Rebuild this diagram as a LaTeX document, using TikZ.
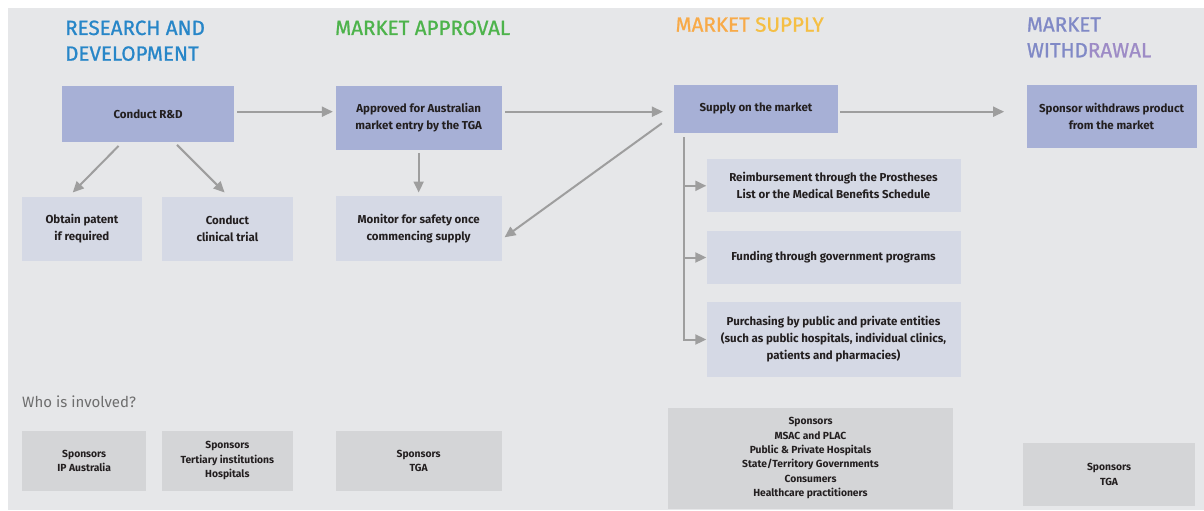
\documentclass[tikz,border=0pt]{standalone}
\usepackage{fontspec}
\setmainfont{Fira Sans}
\newfontfamily\headfont[FakeBold=0.9]{Fira Sans}
\usetikzlibrary{arrows.meta}

\definecolor{panel}{HTML}{E6E7E9}
\definecolor{darkbox}{HTML}{A7B0D6}
\definecolor{lightbox}{HTML}{D5D9E5}
\definecolor{graybox}{HTML}{D4D5D7}
\definecolor{ink}{HTML}{231F20}
\definecolor{arrowgray}{HTML}{9E9E9E}
\definecolor{rdblue}{HTML}{2786C8}
\definecolor{apgreen}{HTML}{4DB34B}
\definecolor{suporange}{HTML}{F8AA48}
\definecolor{supyellow}{HTML}{F5BF44}
\definecolor{wdblue}{HTML}{8089C6}
\definecolor{wdpurple}{HTML}{9D8BC6}
\definecolor{whogray}{HTML}{6E6E6E}

\tikzset{
  box/.style={inner sep=0pt, align=center, text=ink,
    font=\bfseries\fontsize{11.5}{17}\selectfont},
  darkbox/.style={box, fill=darkbox},
  lightbox/.style={box, fill=lightbox},
  whobox/.style={inner sep=0pt, align=center, text=ink, fill=graybox,
    font=\bfseries\fontsize{10.3}{14.3}\selectfont},
  heading/.style={inner sep=0pt, align=left,
    font=\headfont\fontsize{20.6}{25.7}\selectfont},
  arr/.style={draw=arrowgray, line width=2pt,
    -{Triangle[length=11pt,width=10pt]}}
}

\begin{document}
\begin{tikzpicture}[x=1pt,y=-1pt]
  \useasboundingbox (0,0) rectangle (1204,511);
  \fill[white] (0,0) rectangle (1204,511);
  \fill[panel] (7.5,7.7) rectangle (1204,510);

  % stage headings (base anchor of a two-line node sits on its last line)
  \node[heading, anchor=base west, text=rdblue] (hrd) at (65,60.7)
    {RESEARCH AND\\DEVELOPMENT};
  \node[heading, anchor=base west, text=apgreen] (hap) at (335,35)
    {MARKET APPROVAL};
  \node[heading, anchor=base west] (hsm) at (675.4,31.7)
    {\textcolor{suporange}{MARKET} \textcolor{supyellow}{SUPPLY}};
  \node[heading, anchor=base west] (hsw) at (1026.7,57.3)
    {\textcolor{wdblue}{MARKET}\\\textcolor{wdblue}{WITHD}\textcolor{wdpurple}{RAWAL}};

  % main steps
  \node[darkbox, minimum width=172pt, minimum height=56pt] (rd) at (148.1,114)
    {Conduct R\&D};
  \node[darkbox, minimum width=166pt, minimum height=63.7pt] (ap) at (418.65,117.85)
    {Approved for Australian\\market entry by the TGA};
  \node[darkbox, minimum width=164pt, minimum height=47.7pt] (sm) at (756,108.85)
    {Supply on the market};
  \node[darkbox, minimum width=170pt, minimum height=62.7pt] (sw) at (1111.5,116.35)
    {Sponsor withdraws product\\from the market};

  % follow-on steps
  \node[lightbox, minimum width=120pt, minimum height=63.4pt] (op) at (81.9,229)
    {Obtain patent\\if required};
  \node[lightbox, minimum width=131pt, minimum height=63.4pt] (ct) at (227.35,229)
    {Conduct\\clinical trial};
  \node[lightbox, minimum width=166pt, minimum height=65pt] (mo) at (418.65,228.2)
    {Monitor for safety once\\commencing supply};
  \node[lightbox, minimum width=254pt, minimum height=53pt] (rb) at (833.5,185.8)
    {Reimbursement through the Prostheses\\List or the Medical Benefits Schedule};
  \node[lightbox, minimum width=254pt, minimum height=53pt] (fd) at (833.5,257.5)
    {Funding through government programs};
  \node[lightbox, minimum width=254pt, minimum height=74.4pt] (pu) at (833.5,339.5)
    {Purchasing by public and private entities\\(such as public hospitals, individual clinics,\\patients and pharmacies)};

  % who is involved
  \node[inner sep=0pt, anchor=base west, text=whogray,
    font=\fontsize{15}{18}\selectfont] (who) at (22,407.3) {Who is involved?};
  \node[whobox, minimum width=124pt, minimum height=60pt] (w1) at (84.2,460.7)
    {Sponsors\\IP Australia};
  \node[whobox, minimum width=131pt, minimum height=60pt] (w2) at (227.35,460.7)
    {Sponsors\\Tertiary institutions\\Hospitals};
  \node[whobox, minimum width=166pt, minimum height=60pt] (w3) at (418.65,460.7)
    {Sponsors\\TGA};
  \node[whobox, minimum width=285pt, minimum height=101pt] (w4) at (810.5,458.2)
    {Sponsors\\MSAC and PLAC\\Public \& Private Hospitals\\State/Territory Governments\\Consumers\\Healthcare practitioners};
  \node[whobox, minimum width=172pt, minimum height=63pt] (w5) at (1109,474.5)
    {Sponsors\\TGA};

  % connectors along the main line
  \draw[arr, shorten >=2.6pt] ([shift={(3pt,2.3pt)}]rd.east) coordinate (s1)
    -- (s1 -| ap.west);
  \draw[arr, shorten >=10.9pt] ([shift={(3.3pt,6.15pt)}]ap.east) coordinate (s2)
    -- (s2 -| sm.west);
  \draw[arr, shorten >=22.2pt] ([shift={(2pt,-2.85pt)}]sm.east) coordinate (s3)
    -- (s3 -| sw.west);

  % branches
  \draw[arr] ([shift={(-29.5pt,-3.7pt)}]rd.south) -- ([shift={(-9.2pt,4.6pt)}]op.north);
  \draw[arr] ([shift={(28.9pt,-2.7pt)}]rd.south) -- ([shift={(-2.75pt,4.6pt)}]ct.north);
  \draw[arr] ([yshift=-3.3pt]ap.south) -- ([yshift=3pt]mo.north);
  \draw[arr] ([shift={(-11.9pt,-14.45pt)}]sm.west) -- ([shift={(2.7pt,-9.1pt)}]mo.east);

  % supply channels
  \coordinate (t0) at ([shift={(10.1pt,-4.3pt)}]sm.south west);
  \draw[arr] (t0) -- (t0 |- pu.west) -- (pu.west);
  \draw[arr] (t0 |- rb.west) -- (rb.west);
  \draw[arr] (t0 |- fd.west) -- (fd.west);
\end{tikzpicture}
\end{document}
